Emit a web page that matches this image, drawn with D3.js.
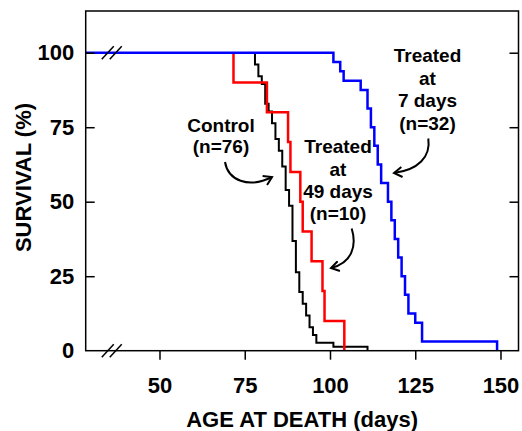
<!DOCTYPE html>
<html>
<head>
<meta charset="utf-8">
<script src="https://cdn.jsdelivr.net/npm/d3@7"></script>
<style>
	body { margin: 0; background: #fff; }
	svg text { font-family: "Liberation Sans", Arial, Helvetica, sans-serif; font-weight: bold; fill: #000; }
</style>
</head>
<body>
<svg id="chart" width="522" height="431"></svg>
<script>

// control group (n=76): age at death (days) and number of deaths that day
var controlAges   = [78, 79, 80, 81, 82, 83, 84, 85, 86, 87, 88, 89, 90, 91, 92, 93, 94, 95, 96, 101, 111];
var controlDeaths = [ 3,  3,  2,  5,  2,  3,  4,  3,  4,  6,  4,  9,  8,  5,  3,  3,  3,  2,  2,   1,   1];

// treated at 49 days (n=10)
var late49Ages   = [71.7, 81.5, 87.7, 88.4, 91.3, 92, 94.6, 97.8, 98.4, 104.2];
var late49Deaths = [1, 1, 1, 1, 1, 1, 1, 1, 1, 1];

// treated at 7 days (n=32)
var early7Ages   = [101, 103, 104, 109, 111, 112, 113, 114, 115, 117, 118, 119, 120, 121, 122, 123, 125, 127, 149];
var early7Deaths = [  1,   1,   1,   1,   2,   2,   2,   2,   2,   2,   2,   2,   2,   2,   2,   2,   1,   2,   1];

var xTicks = [50, 75, 100, 125, 150];
var yTicks = [0, 25, 50, 75, 100];

var margin = {top: 11, right: 3.5, bottom: 80.3, left: 85.7};
var width = 522 - margin.left - margin.right;
var height = 431 - margin.top - margin.bottom;

var x = d3.scaleLinear().domain([28.36, 155.28]).range([0, width]);
var y = d3.scaleLinear().domain([0, 114]).range([height, 0]);

var svg = d3.select("#chart");
var g = svg.append("g").attr("transform", "translate(" + margin.left + "," + margin.top + ")");

// kaplan-meier steps from the death counts
function kmPoints(ages, deaths, start){
	var n = d3.sum(deaths);
	var alive = n;
	var pts = [[start, 100]];
	ages.forEach(function(a, i){
		alive -= deaths[i];
		pts.push([a, 100 * alive / n]);
	});
	return pts;
}

var step = d3.line()
	.x(function(d){ return x(d[0]); })
	.y(function(d){ return y(d[1]); })
	.curve(d3.curveStepAfter);

var groups = [
	{pts: kmPoints(controlAges, controlDeaths, controlAges[0]), color: "#000", w: 2},
	{pts: kmPoints(late49Ages, late49Deaths, late49Ages[0]), color: "#ff0000", w: 2.5},
	{pts: kmPoints(early7Ages, early7Deaths, x.domain()[0]), color: "#0000ff", w: 2.5}
];

g.selectAll("path.km")
	.data(groups)
	.enter()
	.append("path")
	.attr("class", "km")
	.attr("d", function(d){ return step(d.pts); })
	.attr("fill", "none")
	.attr("stroke", function(d){ return d.color; })
	.attr("stroke-width", function(d){ return d.w; })
	.attr("stroke-linejoin", "miter");

// frame
g.append("rect")
	.attr("width", width)
	.attr("height", height)
	.attr("fill", "none")
	.attr("stroke", "#000")
	.attr("stroke-width", 1.5);

// axes
var yAxis = g.append("g")
	.call(d3.axisLeft(y).tickValues(yTicks).tickSize(-9).tickPadding(11.5));
var yAxisR = g.append("g")
	.attr("transform", "translate(" + width + ",0)")
	.call(d3.axisRight(y).tickValues(yTicks.slice(1)).tickSize(-9).tickFormat(""));
var xAxis = g.append("g")
	.attr("transform", "translate(0," + height + ")")
	.call(d3.axisBottom(x).tickValues(xTicks).tickSize(9).tickPadding(18));

[yAxis, yAxisR, xAxis].forEach(function(a){
	a.select(".domain").remove();
	a.selectAll("line").attr("stroke", "#000").attr("stroke-width", 1.5);
	a.selectAll("text").style("font-size", "22px").attr("fill", "#000");
});
yAxis.select(".tick:first-of-type line").remove();

// axis break marks
var breakAt = 36;
[100, 0].forEach(function(v){
	var cx = x(breakAt), cy = y(v);
	[-4, 4].forEach(function(off){
		g.append("line")
			.attr("x1", cx + off - 6).attr("y1", cy + 6.5)
			.attr("x2", cx + off + 6).attr("y2", cy - 6.5)
			.attr("stroke", "#000")
			.attr("stroke-width", 1.5);
	});
});

// axis titles
svg.append("text")
	.attr("x", margin.left + width / 2)
	.attr("y", 427)
	.attr("text-anchor", "middle")
	.style("font-size", "22px")
	.text("AGE AT DEATH (days)");

svg.append("text")
	.attr("transform", "translate(31,177.5) rotate(-90)")
	.attr("text-anchor", "middle")
	.style("font-size", "22px")
	.text("SURVIVAL (%)");

// annotations
var notes = [
	{lines: ["Control", "(n=76)"], x: 221, y: 131.7, lh: 21.6},
	{lines: ["Treated", "at", "49 days", "(n=10)"], x: 338, y: 153.3, lh: 22.2},
	{lines: ["Treated", "at", "7 days", "(n=32)"], x: 427.5, y: 61.7, lh: 22.8}
];

notes.forEach(function(n){
	var t = svg.append("text")
		.attr("text-anchor", "middle")
		.style("font-size", "19px");
	n.lines.forEach(function(l, i){
		t.append("tspan").attr("x", n.x).attr("y", n.y + i * n.lh).text(l);
	});
});

svg.append("defs").append("marker")
	.attr("id", "head")
	.attr("viewBox", "-10 -6 12 12")
	.attr("markerWidth", 12)
	.attr("markerHeight", 12)
	.attr("markerUnits", "userSpaceOnUse")
	.attr("orient", "auto")
	.append("path")
	.attr("d", "M-8,-5 L0,0 L-8,5")
	.attr("fill", "none")
	.attr("stroke", "#000")
	.attr("stroke-width", 2);

var arrows = [
	"M225,162 C228,180 248,189 272,177",
	"M351.7,228.5 C357,246 352,263 331,268",
	"M428.3,138.5 C431,157 418,170 394,173"
];

svg.selectAll("path.arrow")
	.data(arrows)
	.enter()
	.append("path")
	.attr("class", "arrow")
	.attr("d", function(d){ return d; })
	.attr("fill", "none")
	.attr("stroke", "#000")
	.attr("stroke-width", 2)
	.attr("marker-end", "url(#head)");

</script>
</body>
</html>
